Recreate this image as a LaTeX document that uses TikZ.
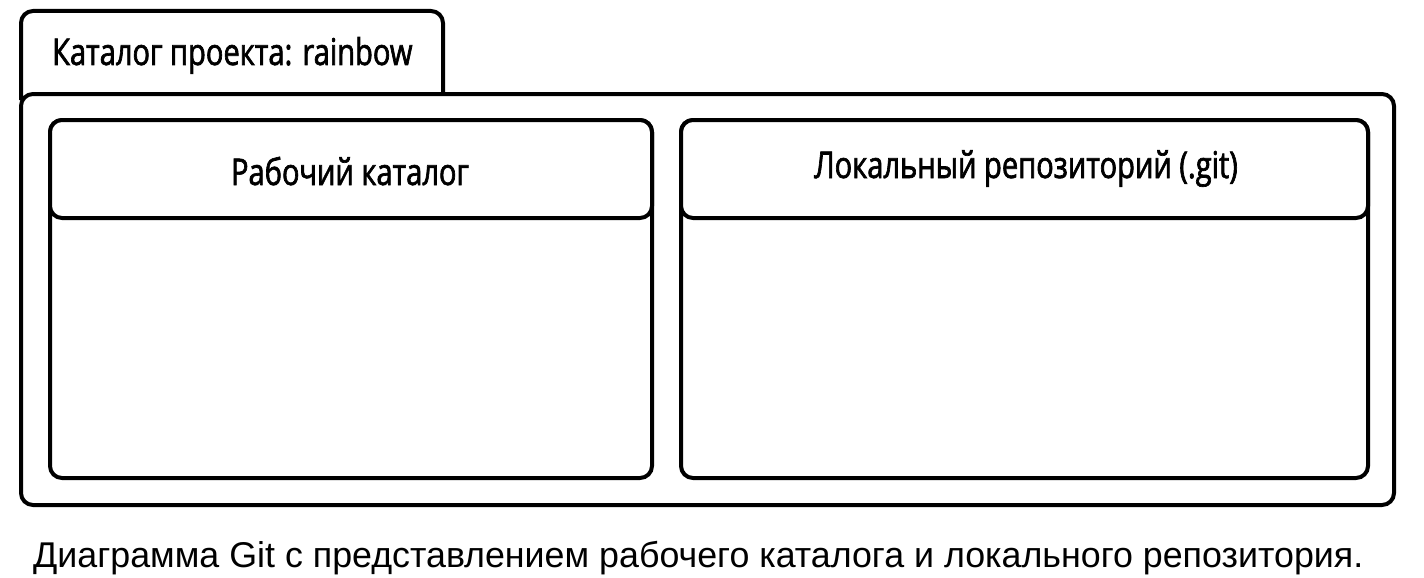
\documentclass[tikz,border=0pt]{standalone}
\usepackage{fontspec}
\setmainfont{Liberation Sans}
\newfontfamily\hdrfont[FakeStretch=0.79,FakeBold=1.8]{Open Sans}
\begin{document}
\begin{tikzpicture}[x=1pt,y=-1pt,
  frame/.style={draw=black, line width=4pt, rounded corners=12pt, inner sep=0pt, fill=white},
  hdr/.style={font=\hdrfont\fontsize{36.8}{42}\selectfont, inner sep=0pt},
  captiontext/.style={font=\fontsize{35.8}{42}\selectfont, inner sep=0pt}]
\useasboundingbox (0,0) rectangle (1424,578);
% tab
\draw[line width=4pt, rounded corners=12pt] (21,100) -- (21,11) -- (443,11) -- (443,95);
\node[frame, minimum width=1373pt, minimum height=411pt] (outer) at (707.5,299.5) {};
\node[hdr, anchor=base west] (tabtext) at (52,65) {Каталог проекта: rainbow};
% left box
\node[frame, minimum width=602pt, minimum height=358pt] (lbody) at (351,299) {};
\node[frame, minimum width=602pt, minimum height=98pt] (lhdr) at (351,169) {};
\node[hdr, anchor=base] (ltext) at (350,185) {Рабочий каталог};
% right box
\node[frame, minimum width=687pt, minimum height=358pt] (rbody) at (1024.5,299) {};
\node[frame, minimum width=687pt, minimum height=98pt] (rhdr) at (1024.5,169) {};
\node[hdr, anchor=base] (rtext) at (1026,178) {Локальный репозиторий (.git)};
% caption
\node[captiontext, anchor=base west] (caption) at (33,567) {Диаграмма Git с представлением рабочего каталога и локального репозитория.};
\end{tikzpicture}
\end{document}
